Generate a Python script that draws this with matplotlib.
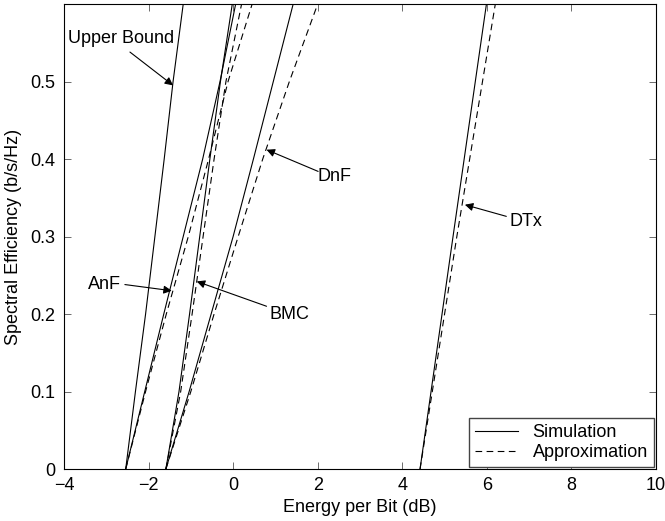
import numpy as np
import matplotlib.pyplot as plt

plt.rcParams['font.family'] = ['Liberation Sans', 'DejaVu Sans']

# spectral efficiency levels (b/s/Hz) and energy per bit (dB)
se = [0, 0.1, 0.2, 0.3, 0.4, 0.5, 0.6]
upper_bound = [-2.54, -2.31, -2.07, -1.85, -1.63, -1.42, -1.18]
anf_sim = [-2.54, -2.09, -1.64, -1.18, -0.72, -0.31, 0.06]
anf_apx = [-2.54, -2.07, -1.58, -1.06, -0.58, -0.12, 0.45]
bmc_sim = [-1.59, -1.28, -1.03, -0.79, -0.55, -0.30, -0.02]
bmc_apx = [-1.59, -1.24, -0.97, -0.71, -0.45, -0.17, 0.20]
dnf_sim = [-1.59, -1.04, -0.52, 0.00, 0.48, 0.95, 1.42]
dnf_apx = [-1.59, -1.00, -0.45, 0.12, 0.70, 1.33, 2.00]

se_dtx = [0, 0.3, 0.6]
dtx_sim = [4.42, 5.20, 5.99]
dtx_apx = [4.42, 5.29, 6.20]

fig = plt.figure(figsize=(6.65, 5.21), dpi=100)
ax = fig.add_axes([0.0962, 0.0998, 0.8903, 0.8925])

lw = 0.8
dash = (0, (6, 4))
ax.plot(upper_bound, se, color='k', lw=lw)
ax.plot(anf_sim, se, color='k', lw=lw, label='Simulation')
ax.plot(anf_apx, se, color='k', lw=lw, linestyle=dash, label='Approximation')
ax.plot(bmc_sim, se, color='k', lw=lw)
ax.plot(bmc_apx, se, color='k', lw=lw, linestyle=dash)
ax.plot(dnf_sim, se, color='k', lw=lw)
ax.plot(dnf_apx, se, color='k', lw=lw, linestyle=dash)
ax.plot(dtx_sim, se_dtx, color='k', lw=lw)
ax.plot(dtx_apx, se_dtx, color='k', lw=lw, linestyle=dash)

ax.set_xlim(-4, 10)
ax.set_ylim(0, 0.6)
ax.set_xticks([-4, -2, 0, 2, 4, 6, 8, 10])
ax.set_xticklabels(['\u22124', '\u22122', '0', '2', '4', '6', '8', '10'])
ax.set_yticks([0, 0.1, 0.2, 0.3, 0.4, 0.5])
ax.set_yticklabels(['0', '0.1', '0.2', '0.3', '0.4', '0.5'])
ax.tick_params(direction='in', top=True, right=True, length=5, width=0.6,
               labelsize=13, color='#555555')
ax.tick_params(axis='x', pad=6)
ax.tick_params(axis='y', pad=6)
for s in ax.spines.values():
    s.set_linewidth(0.8)

ax.set_xlabel('Energy per Bit (dB)', fontsize=13, labelpad=3)
ax.set_ylabel('Spectral Efficiency (b/s/Hz)', fontsize=13, labelpad=6)

arrow = dict(arrowstyle='-|>', color='k', lw=0.8, mutation_scale=12,
             shrinkA=0, shrinkB=0)
notes = [
    ('Upper Bound', (-1.42, 0.495), (-2.44, 0.538), (-2.65, 0.555)),
    ('DnF', (0.79, 0.412), (2.01, 0.384), (2.40, 0.377)),
    ('DTx', (5.48, 0.341), (6.46, 0.326), (6.92, 0.319)),
    ('BMC', (-0.86, 0.242), (0.79, 0.210), (1.32, 0.199)),
    ('AnF', (-1.45, 0.230), (-2.56, 0.238), (-3.05, 0.238)),
]
for txt, head, tail, pos in notes:
    ax.annotate('', xy=head, xytext=tail, arrowprops=arrow)
    ax.text(pos[0], pos[1], txt, fontsize=13, ha='center', va='center')

ax.legend(loc='lower right', fontsize=13, frameon=True, fancybox=False,
          edgecolor='#444444', framealpha=1, handlelength=2.4,
          borderaxespad=0.1, borderpad=0.35, labelspacing=0.15,
          handletextpad=0.8)

fig.savefig('out.png', dpi=100)
